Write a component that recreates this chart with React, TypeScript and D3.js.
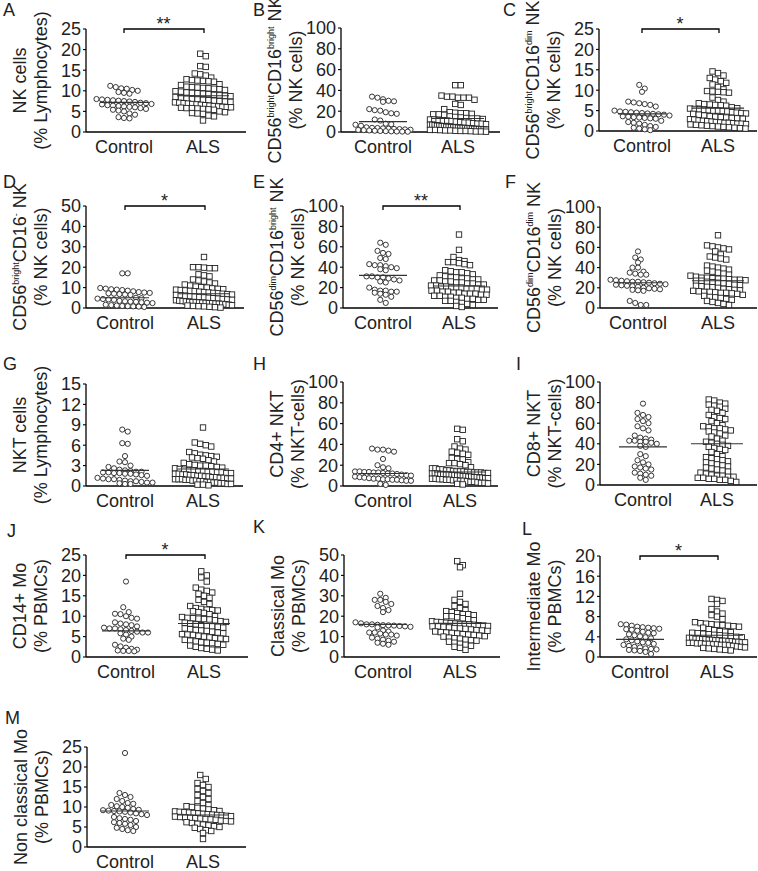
import React from "react";
import * as d3 from "d3";

const FONT = "'Liberation Sans', Arial, Helvetica, sans-serif";
const groups = ["Control", "ALS"];

// ---- data ----
const aControl = [11.2, 10.9, 10.6, 10.5, 10.2, 10.0, 9.7, 9.5, 9.3, 8.0, 7.9, 7.8, 7.7, 7.6, 7.5, 7.4, 7.3, 7.1, 7.0, 6.8, 6.7, 6.5, 6.4, 6.3, 6.2, 6.1, 6.0, 5.8, 5.6, 5.4, 5.2, 5.0, 4.5, 4.2, 3.6, 3.4, 3.3];
const aALS = [19.0, 18.4, 16.0, 15.8, 14.2, 14.0, 13.7, 13.2, 12.8, 12.6, 12.5, 12.4, 12.3, 12.2, 11.6, 11.4, 11.0, 10.9, 10.8, 10.7, 10.6, 10.5, 10.4, 10.2, 9.9, 9.8, 9.6, 9.5, 9.4, 9.3, 9.2, 9.0, 8.9, 8.8, 8.7, 8.5, 8.3, 8.1, 8.0, 7.9, 7.8, 7.7, 7.6, 7.5, 7.4, 7.3, 7.2, 7.1, 7.0, 6.9, 6.8, 6.7, 6.6, 6.5, 6.4, 6.3, 6.2, 6.1, 6.0, 6.0, 5.9, 5.8, 5.8, 5.7, 5.6, 5.5, 5.4, 5.0, 4.8, 4.6, 4.5, 4.4, 4.0, 3.8, 2.8];
const aLines = [7.2, 8.8];

const bControl = [34, 33, 31.5, 30, 29, 29.5, 22, 21, 20.5, 19, 18, 17.5, 12, 11, 8, 7.5, 7, 6, 4.5, 4, 3.8, 3.5, 3.2, 3, 2.8, 2.5, 2.2, 2, 1.8, 1.5, 1.2, 1, 0.8, 0.6, 0.5, 0.4, 0.3];
const bALS = [45, 45, 35, 34, 34, 33, 33, 33, 31, 27, 26, 22, 19, 18.5, 18, 18, 17.5, 17, 17, 16.5, 15, 14.5, 14, 13.5, 13, 13, 12.5, 12, 12, 11.5, 11, 11, 10.5, 10, 9.5, 9, 9, 8.5, 8, 8, 7.5, 7, 7, 6.5, 6, 6, 5.5, 5.5, 5, 5, 4.8, 4.5, 4.5, 4.2, 4, 4, 3.8, 3.5, 3.5, 3.2, 3, 3, 2.8, 2.5, 2.5, 2.2, 2, 2, 1.8, 1.5, 1.5, 1.2, 1, 1, 0.8, 0.5, 0.5, 0.3];
const bLines = [10, 13];

const cControl = [11.3, 10.4, 9.6, 7.2, 7.0, 6.8, 6.6, 6.4, 6.0, 5.0, 4.8, 4.7, 4.6, 4.5, 4.4, 4.3, 4.2, 4.1, 4.0, 3.8, 3.6, 3.5, 3.4, 3.3, 3.2, 3.1, 3.0, 2.5, 2.2, 2.0, 1.8, 1.5, 1.2, 1.0, 0.8, 0.6, 0.4, 0.2];
const cALS = [14.6, 14.2, 13.6, 13.0, 12.6, 12.2, 11.8, 11.4, 10.8, 10.2, 9.8, 9.7, 9.6, 9.5, 9.4, 8.2, 7.6, 7.2, 6.8, 6.6, 6.5, 6.4, 6.3, 6.2, 5.8, 5.6, 5.5, 5.4, 5.3, 5.2, 5.1, 5.0, 5.0, 4.9, 4.8, 4.6, 4.5, 4.4, 4.3, 4.2, 4.0, 3.8, 3.6, 3.5, 3.4, 3.3, 3.2, 3.1, 3.0, 2.9, 2.8, 2.6, 2.5, 2.4, 2.3, 2.2, 2.1, 2.0, 2.0, 1.9, 1.8, 1.8, 1.7, 1.6, 1.5, 1.4, 1.3, 1.2, 1.1, 1.0, 0.9, 0.8, 0.7, 0.6];
const cLines = [4.2, 5.6];

const dControl = [17, 17, 9.8, 9.5, 9.2, 9.0, 8.8, 8.5, 8.2, 7.8, 7.6, 7.4, 7.2, 7.0, 6.8, 6.6, 6.4, 5.0, 4.8, 4.6, 4.4, 4.2, 4.0, 3.5, 3.3, 3.1, 3.0, 2.8, 2.6, 2.4, 1.6, 1.4, 1.2, 1.0, 0.9, 0.8, 0.7, 0.5];
const dALS = [25, 20, 20, 19.5, 19.5, 19.8, 16.5, 16, 15.5, 14, 13.5, 13, 12.5, 12, 11.5, 11, 10.5, 10.2, 10, 9.6, 9.4, 9.2, 9.0, 8.8, 8.6, 8.4, 8.2, 8.0, 7.8, 7.6, 7.4, 7.2, 7.0, 6.8, 6.6, 6.4, 6.2, 6.0, 5.8, 5.6, 5.4, 5.2, 5.0, 4.8, 4.6, 4.4, 4.2, 4.0, 3.8, 3.6, 3.4, 3.2, 3.0, 2.9, 2.8, 2.7, 2.6, 2.5, 2.4, 2.3, 2.2, 2.1, 2.0, 1.8, 1.6, 1.4, 1.2, 1.0, 0.9, 0.8, 0.6, 0.4, 0.2];
const dLines = [5, 7];

const eControl = [64, 62, 56, 54, 53, 49, 48, 43, 42, 42, 41, 40, 39, 38, 37, 31, 31, 30, 30, 29, 28, 27, 26, 25, 20, 18, 17, 17, 16, 16, 15, 14, 13, 11, 8, 5];
const eALS = [72, 57, 50, 46, 45, 45, 44, 47, 43, 42, 37, 36, 35, 35, 34, 33, 32, 31, 30, 30, 29, 29, 28, 28, 27, 27, 26, 26, 25, 25, 24, 24, 23, 23, 22, 22, 21, 21, 20, 20, 20, 19, 19, 19, 18, 18, 17, 17, 16, 16, 15, 15, 14, 14, 14, 13, 13, 12, 12, 11, 11, 10, 10, 9, 9, 8, 8, 7, 7, 6, 5, 4, 3, 2, 1];
const eLines = [32, 21.5];

const fControl = [56, 50, 48, 45, 40, 40, 36, 35, 34, 33, 33, 28, 27.5, 27, 26.5, 26, 26, 25.5, 25, 24.5, 24, 23.5, 23, 22.5, 22, 21.5, 21, 20, 19.5, 19, 18.5, 18, 17.5, 17, 7, 5, 3, 3];
const fALS = [72, 62, 61, 60, 59, 58, 56, 53, 51, 50, 49, 48, 42, 41, 40, 39, 38, 37, 36, 35, 34, 33, 32, 31, 30, 30, 29.5, 29, 29, 28.5, 28, 28, 27.5, 27, 27, 26, 25.5, 25, 24.5, 24, 23, 22.5, 22, 21.5, 21, 20.5, 20, 19, 18.5, 18, 17.5, 17, 16.5, 16, 16, 15.5, 15, 15, 14.5, 14, 13, 12, 11, 10.5, 10, 9, 8, 7, 6, 5, 4, 3];
const fLines = [25, 27];

const gControl = [8.3, 8.0, 6.3, 6.2, 4.4, 3.6, 3.5, 3.0, 2.8, 2.6, 2.4, 2.3, 2.2, 2.1, 2.1, 2.0, 2.0, 1.9, 1.9, 1.8, 1.8, 1.7, 1.6, 1.5, 1.2, 1.1, 1.0, 1.0, 0.9, 0.8, 0.7, 0.7, 0.6, 0.5, 0.5, 0.4, 0.3, 0.3];
const gALS = [8.6, 6.4, 6.2, 6.0, 5.8, 5.0, 4.8, 4.6, 4.5, 4.4, 4.3, 4.2, 4.1, 4.0, 3.8, 3.6, 3.4, 3.2, 3.1, 3.0, 3.0, 2.9, 2.8, 2.7, 2.6, 2.5, 2.4, 2.3, 2.3, 2.2, 2.2, 2.1, 2.1, 2.0, 2.0, 1.9, 1.9, 1.8, 1.8, 1.7, 1.7, 1.6, 1.6, 1.5, 1.5, 1.4, 1.4, 1.3, 1.3, 1.2, 1.2, 1.1, 1.1, 1.0, 1.0, 1.0, 0.9, 0.9, 0.8, 0.8, 0.7, 0.7, 0.6, 0.6, 0.5, 0.5, 0.4, 0.4, 0.3, 0.3, 0.2, 0.2, 0.1];
const gLines = [2.3, 2.5];

const hControl = [36, 35, 35, 34, 33, 26, 20, 18, 17, 14, 14, 13.5, 13.5, 13, 13, 12.5, 12, 12, 11.5, 11, 10.5, 10, 9, 8.5, 8, 7.5, 7, 7, 6.5, 6.5, 6, 6, 5.5, 5, 5, 2, 1];
const hALS = [55, 54, 45, 43, 38, 36, 35, 33, 32, 31, 30, 27, 26, 25.5, 23, 22, 22, 21, 20, 18, 17, 17, 16, 16, 15, 15, 14.5, 14, 14, 14, 13.5, 13.5, 13, 13, 13, 12.5, 12.5, 12, 12, 12, 11.5, 11.5, 11, 11, 10.5, 10.5, 10, 10, 9.5, 9.5, 9, 9, 8.5, 8.5, 8, 8, 7.5, 7.5, 7, 7, 6.5, 6.5, 6, 6, 5.5, 5.5, 5, 5, 4.5, 4, 4, 3.5, 3, 3, 2.5, 2, 1.5];
const hLines = [12, 13.5];

const iControl = [79, 70, 68, 66, 64, 62, 60, 57, 55, 53, 48, 46, 45, 44, 43, 43, 42, 42, 41, 40, 38, 37, 30, 28, 24, 22, 20, 18, 17, 16, 15, 12, 11, 10, 9, 7, 5];
const iALS = [83, 82, 80, 79, 78, 77, 76, 74, 73, 72, 70, 68, 66, 65, 64, 62, 60, 58, 57, 56, 55, 55, 54, 53, 52, 51, 50, 48, 47, 45, 43, 42, 41, 40, 39, 38, 37, 36, 35, 34, 32, 30, 28, 27, 26, 25, 24, 23, 22, 21, 20, 19, 18, 17, 16, 15, 14, 13, 12, 11, 10, 9, 9, 8, 8, 7, 7, 6, 6, 5, 5, 4, 3];
const iLines = [37, 40];

const jControl = [18.5, 12.2, 11.0, 10.6, 10.5, 10.0, 9.6, 9.4, 8.5, 8.2, 8.0, 7.8, 7.5, 7.2, 7.0, 7.0, 6.8, 6.6, 6.4, 6.2, 6.0, 6.0, 5.8, 5.5, 5.0, 4.5, 4.2, 3.0, 2.6, 2.3, 2.0, 1.8, 1.6, 1.5, 1.5, 1.4];
const jALS = [21, 20, 19.5, 18.5, 17, 16.5, 16.2, 15.8, 15.5, 15, 14.5, 14, 13.5, 13, 12.5, 12, 11.8, 11.6, 11.5, 11.4, 11.2, 11.0, 10.8, 10.5, 10.0, 9.8, 9.6, 9.5, 9.4, 9.3, 9.2, 9.0, 8.8, 8.6, 8.4, 8.2, 8.0, 7.8, 7.6, 7.5, 7.4, 7.2, 7.0, 6.8, 6.6, 6.5, 6.4, 6.2, 6.0, 5.8, 5.6, 5.5, 5.4, 5.2, 5.0, 4.8, 4.6, 4.5, 4.4, 4.2, 4.0, 3.8, 3.6, 3.5, 3.4, 3.2, 3.0, 2.8, 2.5, 2.2, 2.0, 1.8, 1.6];
const jLines = [6.4, 8.2];

const kControl = [31, 29, 28, 28, 27, 26, 25, 24, 23, 22, 17, 16.5, 16, 16, 15.8, 15.6, 15.5, 15.4, 15.2, 15, 14.8, 14.5, 13, 12.5, 12, 12, 11.5, 11, 11, 10.5, 9.5, 9, 8.5, 8, 7.5, 7, 6.5, 6];
const kALS = [47, 45, 44, 31, 28, 27, 26, 25, 24, 23, 22.5, 22, 21.5, 21, 21, 20.5, 20, 20, 19.5, 19, 18.5, 18, 17.5, 17.2, 17, 16.8, 16.6, 16.4, 16.2, 16, 16, 15.8, 15.6, 15.4, 15.2, 15, 15, 14.8, 14.5, 14.2, 14, 13.8, 13.5, 13.2, 13, 12.8, 12.5, 12.2, 12, 11.8, 11.5, 11.2, 11, 10.8, 10.5, 10.2, 10, 9.5, 9.2, 9, 8.5, 8.2, 8, 7.5, 7, 6.5, 6, 5.5, 5, 4.5, 3.5];
const kLines = [16, 16.5];

const lControl = [6.5, 6.4, 6.2, 6.0, 5.9, 5.8, 5.7, 5.6, 5.5, 5.4, 5.2, 5.0, 4.8, 4.7, 4.5, 4.3, 4.1, 3.9, 3.7, 3.5, 3.3, 3.1, 2.9, 2.8, 2.6, 2.4, 2.2, 2.0, 1.9, 1.7, 1.6, 1.5, 1.4, 1.3, 1.2, 1.0, 0.6];
const lALS = [11.5, 11.3, 11.1, 10.5, 9.5, 9.0, 8.6, 8.3, 8.0, 7.5, 6.9, 6.7, 6.6, 6.5, 6.4, 6.3, 6.2, 6.1, 6.0, 5.8, 5.5, 5.3, 5.1, 5.0, 4.9, 4.8, 4.7, 4.6, 4.5, 4.4, 4.3, 4.2, 4.1, 4.0, 3.9, 3.8, 3.7, 3.6, 3.6, 3.5, 3.5, 3.4, 3.4, 3.3, 3.3, 3.2, 3.2, 3.1, 3.1, 3.0, 3.0, 2.9, 2.9, 2.8, 2.8, 2.7, 2.7, 2.6, 2.6, 2.5, 2.5, 2.4, 2.4, 2.3, 2.2, 2.1, 2.0, 1.9, 1.8, 1.7, 1.6, 1.5, 1.4, 1.3];
const lLines = [3.5, 4.3];

const mControl = [23.5, 13.5, 13.0, 12.5, 12.0, 11.5, 11.0, 10.8, 10.5, 10.2, 10.0, 9.8, 9.5, 9.3, 9.2, 9.1, 9.0, 8.9, 8.8, 8.6, 8.4, 8.2, 8.0, 7.5, 7.2, 7.0, 6.8, 6.5, 6.2, 6.0, 5.8, 5.5, 5.0, 4.8, 4.5, 4.2, 4.0];
const mALS = [18, 17, 16, 15.5, 15, 14.5, 14, 13.5, 13, 12.5, 12, 11.5, 11, 10.5, 10.2, 10, 9.8, 9.6, 9.4, 9.2, 9.0, 8.9, 8.8, 8.7, 8.6, 8.5, 8.4, 8.3, 8.2, 8.1, 8.0, 7.9, 7.8, 7.7, 7.6, 7.5, 7.4, 7.3, 7.2, 7.1, 7.0, 6.9, 6.8, 6.6, 6.5, 6.4, 6.2, 6.0, 5.8, 5.6, 5.4, 5.2, 5.0, 4.8, 4.5, 4.2, 4.0, 3.5, 2.0];
const mLines = [9, 8];

// tick values per panel
const ticks25 = [0, 5, 10, 15, 20, 25];
const ticks100 = [0, 20, 40, 60, 80, 100];
const ticks50 = [0, 10, 20, 30, 40, 50];
const ticks15 = [0, 3, 6, 9, 12, 15];
const ticks20 = [0, 4, 8, 12, 16, 20];

// titles: ^{...} marks superscript
const titles = [
  ["NK cells", "(% Lymphocytes)"],
  ["CD56^{bright}CD16^{bright} NK", "(% NK cells)"],
  ["CD56^{bright}CD16^{dim} NK", "(% NK cells)"],
  ["CD56^{bright}CD16^{-} NK", "(% NK cells)"],
  ["CD56^{dim}CD16^{bright} NK", "(% NK cells)"],
  ["CD56^{dim}CD16^{dim} NK", "(% NK cells)"],
  ["NKT cells", "(% Lymphocytes)"],
  ["CD4+ NKT", "(% NKT-cells)"],
  ["CD8+ NKT", "(% NKT-cells)"],
  ["CD14+ Mo", "(% PBMCs)"],
  ["Classical Mo", "(% PBMCs)"],
  ["Intermediate Mo", "(% PBMCs)"],
  ["Non classical Mo", "(% PBMCs)"],
];
const letters = ["A", "B", "C", "D", "E", "F", "G", "H", "I", "J", "K", "L", "M"];
const sig = ["**", "", "*", "*", "**", "", "", "", "", "*", "", "*", ""];

const panelData = [
  [aControl, aALS, aLines, ticks25],
  [bControl, bALS, bLines, ticks100],
  [cControl, cALS, cLines, ticks25],
  [dControl, dALS, dLines, ticks50],
  [eControl, eALS, eLines, ticks100],
  [fControl, fALS, fLines, ticks100],
  [gControl, gALS, gLines, ticks15],
  [hControl, hALS, hLines, ticks100],
  [iControl, iALS, iLines, ticks100],
  [jControl, jALS, jLines, ticks25],
  [kControl, kALS, kLines, ticks50],
  [lControl, lALS, lLines, ticks20],
  [mControl, mALS, mLines, ticks25],
];

// layout (pixel geometry)
const layout = [
  { axisX: 86, top: 29, bottom: 132, right: 246, cx: [124, 203], lx: 3, ly: 16 },
  { axisX: 341, top: 28, bottom: 132, right: 500, cx: [383, 458], lx: 253, ly: 16 },
  { axisX: 599, top: 29, bottom: 131, right: 757, cx: [642, 718], lx: 503, ly: 16 },
  { axisX: 86, top: 206, bottom: 308, right: 244, cx: [125, 204], lx: 3, ly: 188 },
  { axisX: 343, top: 206, bottom: 308, right: 498, cx: [383, 459], lx: 253, ly: 188 },
  { axisX: 600, top: 207, bottom: 308, right: 757, cx: [638, 718], lx: 505, ly: 188 },
  { axisX: 86, top: 384, bottom: 486, right: 243, cx: [125, 203], lx: 3, ly: 370 },
  { axisX: 343, top: 382, bottom: 486, right: 498, cx: [383, 460], lx: 253, ly: 370 },
  { axisX: 600, top: 382, bottom: 485, right: 757, cx: [643, 717], lx: 516, ly: 370 },
  { axisX: 86, top: 555, bottom: 657, right: 248, cx: [126, 204], lx: 7, ly: 537 },
  { axisX: 344, top: 555, bottom: 657, right: 500, cx: [383, 460], lx: 253, ly: 533 },
  { axisX: 600, top: 556, bottom: 657, right: 757, cx: [640, 717], lx: 522, ly: 535 },
  { axisX: 87, top: 747, bottom: 847, right: 246, cx: [125, 203], lx: 5, ly: 724 },
];

const FS = 18;
const INK = "#222";

function swarm(values: number[], y: d3.ScaleLinear<number, number>, cx: number) {
  const sorted = [...values].sort((a, b) => b - a);
  const rows: { y0: number; pts: number[] }[] = [];
  let cur: { y0: number; pts: number[] } | null = null;
  for (const v of sorted) {
    const py = y(v);
    if (!cur || py - cur.y0 > 5) {
      cur = { y0: py, pts: [] };
      rows.push(cur);
    }
    cur.pts.push(py);
  }
  const out: { x: number; y: number }[] = [];
  rows.forEach((r) => {
    const n = r.pts.length;
    const s = n > 1 ? Math.min(5.5, 56 / (n - 1)) : 0;
    r.pts.forEach((py, i) => out.push({ x: cx + (i - (n - 1) / 2) * s, y: py }));
  });
  return out;
}

function TitleText({ text, x, y }: { text: string; x: number; y: number }) {
  const parts: { t: string; sup: boolean }[] = [];
  const re = /\^\{([^}]*)\}/g;
  let last = 0;
  let m: RegExpExecArray | null;
  while ((m = re.exec(text))) {
    if (m.index > last) parts.push({ t: text.slice(last, m.index), sup: false });
    parts.push({ t: m[1], sup: true });
    last = m.index + m[0].length;
  }
  if (last < text.length) parts.push({ t: text.slice(last), sup: false });
  let prevSup = false;
  return (
    <text transform={`translate(${x},${y}) rotate(-90)`} textAnchor="middle" fontSize={FS} fill={INK} fontFamily={FONT}>
      {parts.map((p, i) => {
        let dy = 0;
        if (p.sup && !prevSup) dy = -7;
        if (!p.sup && prevSup) dy = 7;
        prevSup = p.sup;
        return (
          <tspan key={i} dy={dy} fontSize={p.sup ? 9 : FS}>
            {p.t}
          </tspan>
        );
      })}
    </text>
  );
}

function Panel({ idx }: { idx: number }) {
  const [ctrl, als, lines, ticks] = panelData[idx] as [number[], number[], number[], number[]];
  const L = layout[idx];
  const y = d3.scaleLinear().domain([0, ticks[ticks.length - 1]]).range([L.bottom, L.top]);
  const ptsC = swarm(ctrl, y, L.cx[0]);
  const ptsA = swarm(als, y, L.cx[1]);
  const midY = (L.top + L.bottom) / 2;
  const lineHalf = [24, 26];
  return (
    <g>
      <text x={L.lx} y={L.ly} fontSize={FS} fill={INK} fontFamily={FONT}>
        {letters[idx]}
      </text>
      <TitleText text={titles[idx][0]} x={L.axisX - 60} y={midY} />
      <TitleText text={titles[idx][1]} x={L.axisX - 39} y={midY} />
      <line x1={L.axisX} x2={L.axisX} y1={L.top} y2={L.bottom} stroke="#000" strokeWidth={1.3} />
      {ticks.map((t) => (
        <g key={t}>
          <line x1={L.axisX - 3} x2={L.axisX} y1={y(t)} y2={y(t)} stroke="#000" strokeWidth={1.1} />
          <text x={L.axisX - 5} y={y(t)} dy="0.36em" textAnchor="end" fontSize={FS} fill={INK} fontFamily={FONT}>
            {t}
          </text>
        </g>
      ))}
      <line x1={L.axisX} x2={L.right} y1={L.bottom} y2={L.bottom} stroke="#000" strokeWidth={1.3} />
      {groups.map((g, i) => (
        <text key={g} x={L.cx[i]} y={L.bottom + 21} textAnchor="middle" fontSize={FS} fill={INK} fontFamily={FONT}>
          {g}
        </text>
      ))}
      {ptsC.map((p, i) => (
        <circle key={"c" + i} cx={p.x} cy={p.y} r={2.6} fill="#fff" stroke={INK} strokeWidth={0.9} />
      ))}
      {ptsA.map((p, i) => (
        <rect key={"a" + i} x={p.x - 2.7} y={p.y - 2.7} width={5.4} height={5.4} fill="#fff" stroke={INK} strokeWidth={0.9} />
      ))}
      {lines.map((v, i) => (
        <line key={"l" + i} x1={L.cx[i] - lineHalf[i]} x2={L.cx[i] + lineHalf[i]} y1={y(v)} y2={y(v)} stroke="#333" strokeWidth={1.1} />
      ))}
      {sig[idx] && (
        <g>
          <path
            d={`M${L.cx[0]},${L.top + 4}V${L.top}H${L.cx[1] + 1}V${L.top + 4}`}
            fill="none"
            stroke="#000"
            strokeWidth={1.3}
          />
          <text x={(L.cx[0] + L.cx[1]) / 2} y={L.top + 1} textAnchor="middle" fontSize={FS} fill={INK} fontFamily={FONT}>
            {sig[idx]}
          </text>
        </g>
      )}
    </g>
  );
}

export default function App() {
  return (
    <svg width={758} height={871} style={{ position: "absolute", left: 0, top: 0, background: "#fff" }}>
      <rect width={758} height={871} fill="#fff" />
      {panelData.map((_, i) => (
        <Panel key={i} idx={i} />
      ))}
    </svg>
  );
}
